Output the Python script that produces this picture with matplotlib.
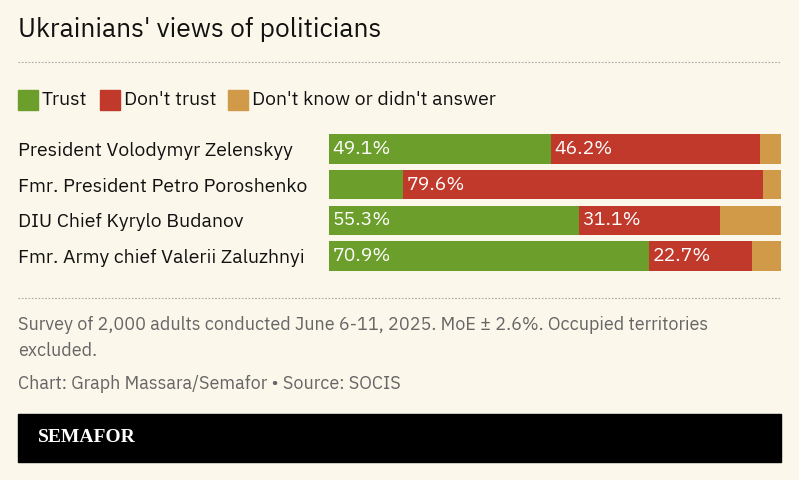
import matplotlib.pyplot as plt
from matplotlib.patches import Rectangle

names = ['President Volodymyr Zelenskyy', 'Fmr. President Petro Poroshenko',
         'DIU Chief Kyrylo Budanov', 'Fmr. Army chief Valerii Zaluzhnyi']
trust = [49.1, 16.4, 55.3, 70.9]
dont_trust = [46.2, 79.6, 31.1, 22.7]
dont_know = [4.7, 4.0, 13.6, 6.4]
show_trust = [True, False, True, True]

bg = '#fbf7ea'
green, red, tan = '#6b9e2a', '#c0392b', '#d19a48'
plt.rcParams['font.family'] = ['IBM Plex Sans', 'Noto Sans', 'DejaVu Sans']

W, H = 799, 480
fig = plt.figure(figsize=(W / 100, H / 100), dpi=100, facecolor=bg)

def fx(px): return px / W
def fy(py): return 1 - py / H

fig.text(fx(18), fy(29), "Ukrainians' views of politicians", fontsize=19, va='center', color='#111')
fig.add_artist(plt.Line2D([fx(18), fx(781)], [fy(62), fy(62)], ls=(0, (1.5, 1.5)), color='#aaa', lw=0.8))

# legend
lx = 18
for lab, c in [('Trust', green), ("Don't trust", red), ("Don't know or didn't answer", tan)]:
    fig.add_artist(Rectangle((fx(lx), fy(110)), fx(20), 20 / H, color=c))
    t = fig.text(fx(lx + 24), fy(100), lab, fontsize=14, va='center', color='#111', weight='semibold')
    fig.canvas.draw()
    bb = t.get_window_extent()
    lx = bb.x1 + 12

ax = fig.add_axes([fx(329), fy(274), fx(781) - fx(329), (274 - 131) / H])
ax.set_facecolor(bg)
y = list(range(len(names)))
ax.barh(y, trust, color=green, height=0.82)
ax.barh(y, dont_trust, left=trust, color=red, height=0.82)
ax.barh(y, dont_know, left=[a + b for a, b in zip(trust, dont_trust)], color=tan, height=0.82)
for i in y:
    if show_trust[i]:
        ax.text(0.8, i, f'{trust[i]}%', color='white', va='center', fontsize=14)
    ax.text(trust[i] + 0.8, i, f'{dont_trust[i]}%', color='white', va='center', fontsize=14)
ax.set_xlim(0, 100)
ax.set_ylim(3.5, -0.5)
ax.set_yticks(y)
ax.set_yticklabels(names, fontsize=14, color='#111')
for lab in ax.get_yticklabels():
    lab.set_horizontalalignment('left')
ax.tick_params(axis='y', length=0, pad=(329 - 18) * 0.72)
ax.set_xticks([])
for s in ax.spines.values():
    s.set_visible(False)

fig.add_artist(plt.Line2D([fx(18), fx(781)], [fy(298), fy(298)], ls=(0, (1.5, 1.5)), color='#aaa', lw=0.8))
fig.text(fx(18), fy(325), 'Survey of 2,000 adults conducted June 6-11, 2025. MoE ± 2.6%. Occupied territories',
         fontsize=13, color='#666', va='center')
fig.text(fx(18), fy(351), 'excluded.', fontsize=13, color='#666', va='center')
fig.text(fx(18), fy(384), 'Chart: Graph Massara/Semafor • Source: SOCIS', fontsize=13, color='#666', va='center')

fig.add_artist(Rectangle((fx(18), fy(462)), fx(781) - fx(18), 48 / H, color='black'))
fig.text(fx(38), fy(438), 'SEMAFOR', fontsize=14, color='white', va='center', weight='bold',
         family=['Liberation Serif', 'DejaVu Serif'])

fig.savefig('out.png', dpi=100, facecolor=bg)
